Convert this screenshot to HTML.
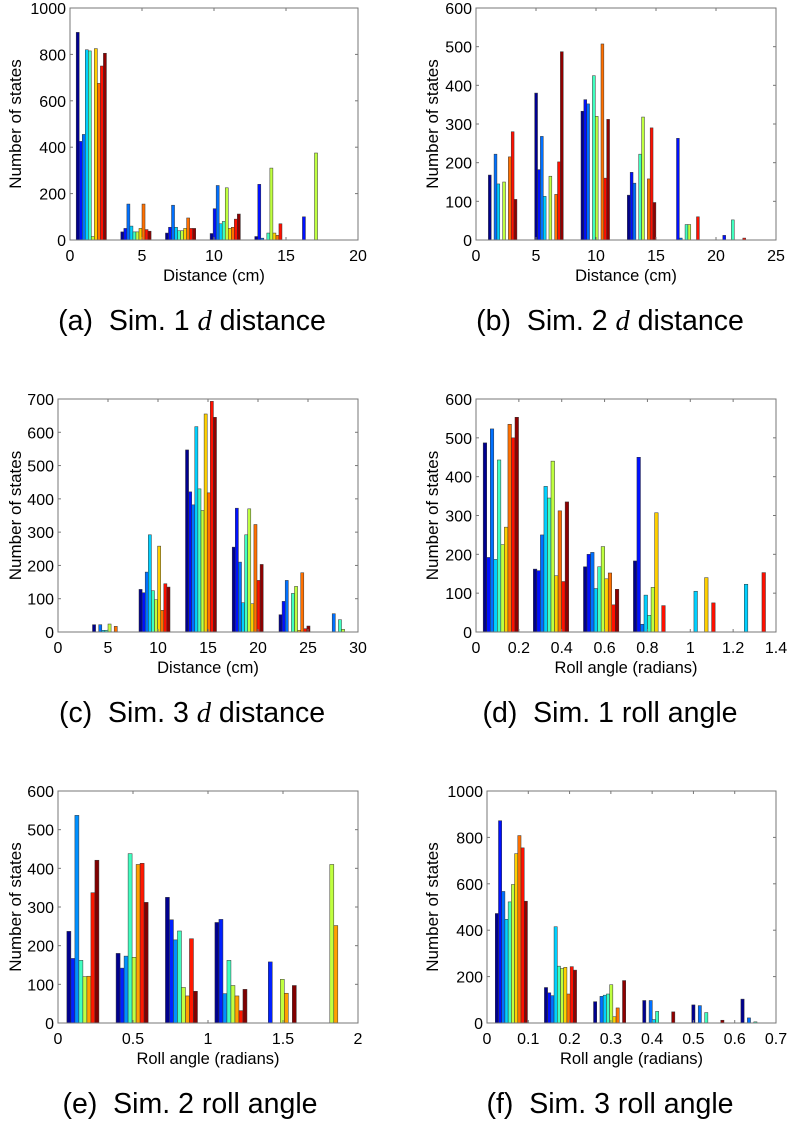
<!DOCTYPE html>
<html><head><meta charset="utf-8"><style>
html,body{margin:0;padding:0;background:#fff;width:794px;height:1131px;overflow:hidden}
svg{display:block;font-family:"Liberation Sans",sans-serif}
</style></head><body>
<svg id="fig" width="794" height="1131" viewBox="0 0 794 1131" xmlns="http://www.w3.org/2000/svg"></svg>
<script>
// ----- data -----
const colors10 = ["#00008f","#0010ff","#0070ff","#00d0ff","#40ffbf","#bfff40","#ffd000","#ff7000","#ff1000","#8f0000"];
const colors8 = ["#00008f","#0020ff","#0090ff","#40ffc0","#c0ff40","#ffa000","#ff1800","#800000"];

const aCenters = [1.48,4.58,7.68,10.78,13.88,16.98];
const aValues = [
 [895,425,455,820,815,15,825,675,750,805],
 [35,50,155,60,35,35,50,155,45,38],
 [30,55,150,55,40,40,50,95,50,50],
 [28,135,235,70,80,225,50,55,90,112],
 [15,240,8,0,30,310,30,20,70,0],
 [0,100,0,0,0,375,0,0,0,0]];
const aXTicks = [0,5,10,15,20];
const aYTicks = [0,200,400,600,800,1000];

const bCenters = [2.22,6.08,9.94,13.8,17.66,21.52];
const bValues = [
 [168,0,222,145,0,150,0,215,280,105],
 [380,182,268,113,0,165,0,118,202,487],
 [333,363,352,0,425,320,0,507,160,312],
 [116,175,147,0,222,318,0,158,290,97],
 [0,263,5,0,40,40,0,0,60,0],
 [0,12,0,0,52,0,0,0,5,0]];
const bXTicks = [0,5,10,15,20,25];
const bYTicks = [0,100,200,300,400,500,600];

const cCenters = [5.0,9.65,14.3,18.97,23.65,28.35];
const cValues = [
 [22,0,22,5,5,24,0,17,0,0],
 [128,118,180,292,124,97,258,65,145,135],
 [547,421,382,617,430,365,655,418,693,645],
 [255,372,210,88,292,370,85,323,155,203],
 [52,92,155,0,116,137,5,178,10,18],
 [0,0,55,0,37,8,0,0,0,0]];
const cXTicks = [0,5,10,15,20,25,30];
const cYTicks = [0,100,200,300,400,500,600,700];

const dCenters = [0.116,0.35,0.584,0.817,1.05,1.285];
const dValues = [
 [487,192,523,187,443,225,270,535,500,553],
 [162,158,250,375,345,440,145,312,130,335],
 [168,200,205,112,168,220,137,152,70,110],
 [183,450,20,95,43,115,307,0,68,0],
 [0,0,0,105,0,0,140,0,75,0],
 [0,0,0,123,0,0,0,0,153,0]];
const dXTicks = [0,0.2,0.4,0.6,0.8,1,1.2,1.4];
const dYTicks = [0,100,200,300,400,500,600];

const eCenters = [0.166,0.494,0.823,1.153,1.482,1.812];
const eValues = [
 [237,167,537,162,120,121,337,421],
 [180,142,173,438,170,410,413,312],
 [325,267,215,238,92,70,218,82],
 [260,268,76,162,97,70,32,87],
 [0,158,0,0,113,77,0,97],
 [0,0,0,0,410,252,0,0]];
const eXTicks = [0,0.5,1,1.5,2];
const eYTicks = [0,100,200,300,400,500,600];

const fCenters = [0.059,0.178,0.297,0.416,0.535,0.654];
const fValues = [
 [472,872,567,447,522,597,730,808,755,525],
 [153,130,118,415,245,235,240,125,243,228],
 [92,0,115,120,125,165,27,65,0,183],
 [97,0,97,15,50,0,0,0,0,48],
 [78,0,75,0,45,0,0,0,0,12],
 [103,0,22,0,5,0,0,0,0,0]];
const fXTicks = [0,0.1,0.2,0.3,0.4,0.5,0.6,0.7];
const fYTicks = [0,200,400,600,800,1000];

// ----- drawing -----
const NS = "http://www.w3.org/2000/svg";
const svg = document.getElementById("fig");
function mk(tag, attrs, parent){
  const e = document.createElementNS(NS, tag);
  for (const k in attrs) e.setAttribute(k, attrs[k]);
  (parent||svg).appendChild(e);
  return e;
}

function chart(id, box, xMax, yMax, xTicks, yTicks, centers, values, bw, colors, xLabel, ylabX, capX, capY, capParts){
  const g = mk("g", {});
  
  
  const [L,R,T,B] = box;
  const sx = v => L + (v / xMax) * (R - L);
  const sy = v => B - (v / yMax) * (B - T);
  const n = colors.length;
  values.forEach((grp, gi) => {
    grp.forEach((v, si) => {
      if (v <= 0) return;
      const xc = centers[gi] + (si - (n - 1) / 2) * bw;
      const x0 = sx(xc - bw / 2), x1 = sx(xc + bw / 2);
      const r = mk("rect", {x: x0, y: sy(v), width: Math.max(0.8, x1 - x0), height: sy(0) - sy(v), fill: colors[si], stroke: "#333", "stroke-width": 0.5}, g);
      
      
    });
  });
  const bx = mk("rect", {x: L, y: T, width: R - L, height: B - T, fill: "none", stroke: "#777", "stroke-width": 1}, g);
  
  
  xTicks.forEach(t => {
    const x = sx(t);
    mk("line", {x1: x, y1: B, x2: x, y2: B - 3, stroke: "#777"}, g);
    mk("line", {x1: x, y1: T, x2: x, y2: T + 3, stroke: "#777"}, g);
    const tx = mk("text", {x: x, y: B + 21, "font-size": 16, "text-anchor": "middle", fill: "#000"}, g);
    tx.textContent = String(t);
    
    
  });
  yTicks.forEach(t => {
    const y = sy(t);
    mk("line", {x1: L, y1: y, x2: L + 3, y2: y, stroke: "#777"}, g);
    mk("line", {x1: R, y1: y, x2: R - 3, y2: y, stroke: "#777"}, g);
    const ty = mk("text", {x: L - 4, y: y + 6, "font-size": 16, "text-anchor": "end", fill: "#000"}, g);
    ty.textContent = String(t);
    
    
  });
  const xl = mk("text", {x: (L + R) / 2, y: B + 41, "font-size": 16.5, "text-anchor": "middle", fill: "#000"}, g);
  xl.textContent = xLabel;
  
  
  const cy = (T + B) / 2;
  const yl = mk("text", {x: ylabX, y: cy, "font-size": 17, "text-anchor": "middle", fill: "#000", transform: `rotate(-90 ${ylabX} ${cy})`, dy: 6}, g);
  yl.textContent = "Number of states";
  
  
  const cap = mk("text", {x: capX, y: capY + 10, "font-size": 28.5, "text-anchor": "middle", fill: "#000"}, g);
  
  
  capParts.forEach(p => {
    const ts = mk("tspan", p[1] ? {"font-family": "'Liberation Serif',serif", "font-style": "italic"} : {}, cap);
    ts.textContent = p[0];
  });
}

chart("a", [70,358,8,240], 20, 1000, aXTicks, aYTicks, aCenters, aValues, 0.21, colors10, "Distance (cm)", 15, 192, 320, [["(a)\u00a0 Sim. 1 ",0],["d",1],[" distance",0]]);
chart("b", [476,776,8,240], 25, 600, bXTicks, bYTicks, bCenters, bValues, 0.238, colors10, "Distance (cm)", 432, 610, 320, [["(b)\u00a0 Sim. 2 ",0],["d",1],[" distance",0]]);
chart("c", [58,358,399,632], 30, 700, cXTicks, cYTicks, cCenters, cValues, 0.31, colors10, "Distance (cm)", 15, 192, 712, [["(c)\u00a0 Sim. 3 ",0],["d",1],[" distance",0]]);
chart("d", [476,776,399,632], 1.4, 600, dXTicks, dYTicks, dCenters, dValues, 0.0165, colors10, "Roll angle (radians)", 432, 610, 712, [["(d)\u00a0 Sim. 1 roll angle",0]]);
chart("e", [58,358,791,1023], 2, 600, eXTicks, eYTicks, eCenters, eValues, 0.0267, colors8, "Roll angle (radians)", 15, 190, 1103, [["(e)\u00a0 Sim. 2 roll angle",0]]);
chart("f", [487,776,791,1023], 0.7, 1000, fXTicks, fYTicks, fCenters, fValues, 0.0078, colors10, "Roll angle (radians)", 432, 610, 1103, [["(f)\u00a0 Sim. 3 roll angle",0]]);
</script>
</body></html>
